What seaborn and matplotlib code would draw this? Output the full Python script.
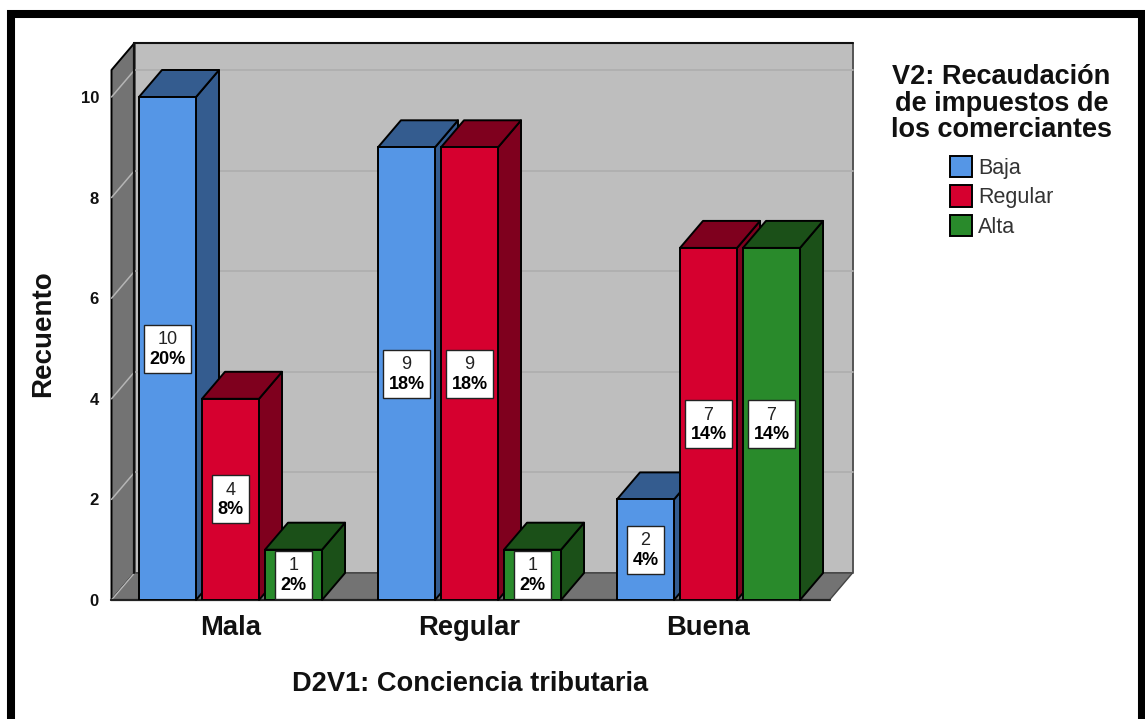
import numpy as np
import pandas as pd
import seaborn as sns
import matplotlib.pyplot as plt
from matplotlib.patches import Polygon, Rectangle

conciencia = ['Mala', 'Regular', 'Buena']
recaudacion = ['Baja', 'Regular', 'Alta']
baja = [10, 9, 2]
regular = [4, 9, 7]
alta = [1, 1, 7]
baja_pct = [20, 18, 4]
regular_pct = [8, 18, 14]
alta_pct = [2, 2, 14]
y_ticks = [0, 2, 4, 6, 8, 10]

front_colors = ['#5596E6', '#D6002F', '#298A2B']
dark_colors = ['#345C8F', '#7F001E', '#1B5018']

W, H = 1145, 719
# plot box in pixels of the picture
LEFT, RIGHT, BOTTOM, TOP = 111.5, 829.5, 600, 70
PX_PER_Y = 50.3
PX_PER_X = 239
DX, DY = 23 / PX_PER_X, 27 / PX_PER_Y

sns.set_theme(style='white')
plt.rcParams['font.family'] = ['Liberation Sans', 'DejaVu Sans']

df = pd.DataFrame({
    'cond': conciencia * 3,
    'grupo': np.repeat(recaudacion, 3),
    'n': baja + regular + alta,
})
pcts = [baja_pct, regular_pct, alta_pct]

fig = plt.figure(figsize=(W / 100, H / 100), dpi=100)
ax = fig.add_axes([LEFT / W, 1 - BOTTOM / H, (RIGHT - LEFT) / W, (BOTTOM - TOP) / H])

sns.barplot(data=df, x='cond', y='n', hue='grupo', order=conciencia, hue_order=recaudacion,
            palette=front_colors, width=0.791, gap=0.095, edgecolor='black', linewidth=1.4,
            saturation=1, ax=ax)

x0, x1 = (LEFT - 230.5) / PX_PER_X, (RIGHT - 230.5) / PX_PER_X
y1 = (BOTTOM - TOP) / PX_PER_Y
ax.set_xlim(x0, x1)
ax.set_ylim(0, y1)
ax.patch.set_alpha(0)
sns.despine(ax=ax, left=True, bottom=True, top=True, right=True)


def poly(pts, color, z, edge='black', lw=1.4):
    ax.add_patch(Polygon(pts, closed=True, facecolor=color, edgecolor=edge, linewidth=lw,
                         clip_on=False, zorder=z, joinstyle='round'))


# back wall, side wall, floor
wall = '#BEBEBE'
side = '#737373'
poly([(x0 + DX, DY), (x1 + DX, DY), (x1 + DX, y1 + DY), (x0 + DX, y1 + DY)], wall, 0.5, edge='#555555')
ax.plot([x0 + DX, x1 + DX], [y1 + DY, y1 + DY], color='#111111', lw=1.5, clip_on=False, zorder=0.8)
poly([(x0, 0), (x0 + DX, DY), (x0 + DX, y1 + DY), (x0, y1)], side, 0.6)
poly([(x0, 0), (x1, 0), (x1 + DX, DY), (x0 + DX, DY)], side, 0.6, edge='#444444', lw=1)
for t in y_ticks[1:]:
    ax.plot([x0 + DX, x1 + DX], [t + DY, t + DY], color='#AFAFAF', lw=1.3, zorder=0.7, clip_on=False)
for t in y_ticks:
    ax.plot([x0, x0 + DX], [t, t + DY], color='#B5B5B5', lw=1.1, zorder=0.7, clip_on=False)
ax.plot([x0 + DX, x0 + DX], [DY, y1 + DY], color='#111111', lw=1.6, zorder=0.75, clip_on=False)
ax.plot([x0, x1], [0, 0], color='#222222', lw=1.6, zorder=0.9, clip_on=False)

# depth faces, each bar hides the side of its left neighbour
renderer = fig.canvas.get_renderer()
bars = []
for h, cont in enumerate(ax.containers):
    for c, bar in enumerate(cont.patches):
        bars.append((bar.get_x(), h, c, bar))
bars.sort(key=lambda b: b[0])
for i, (bx, h, c, bar) in enumerate(bars):
    w = bar.get_width()
    v = bar.get_height()
    z = 3 + i
    bar.set_zorder(z + 0.5)
    poly([(bx + w, 0), (bx + w + DX, DY), (bx + w + DX, v + DY), (bx + w, v)], dark_colors[h], z)
    poly([(bx, v), (bx + w, v), (bx + w + DX, v + DY), (bx + DX, v + DY)], dark_colors[h], z)
    cx = bx + w / 2
    cy = v / 2
    ax.annotate(f'{int(v)}', (cx, cy), xytext=(0, 6.4), textcoords='offset points', ha='center', va='center',
                fontsize=13, color='#222222', zorder=31)
    pct_text = ax.annotate(f'{pcts[h][c]}%', (cx, cy), xytext=(0, -7.6), textcoords='offset points',
                           ha='center', va='center', fontsize=13, fontweight='bold', color='black', zorder=31)
    # white label box fitted round the wider line
    box_w = (pct_text.get_window_extent(renderer).width + 10) / PX_PER_X
    box_h = 48 / PX_PER_Y
    ax.add_patch(Rectangle((cx - box_w / 2, cy - box_h / 2), box_w, box_h, facecolor='white',
                           edgecolor='#222222', linewidth=1, zorder=30))

ax.set_yticks(y_ticks)
ax.set_yticklabels(y_ticks, fontsize=12, fontweight='bold', color='#111111')
ax.tick_params(axis='y', length=0, pad=9)
ax.tick_params(axis='x', length=0, pad=10.7)
ax.set_xticks(range(3))
ax.set_xticklabels(conciencia, fontsize=19.7, fontweight='bold', color='#111111')
ax.set_xlabel('D2V1: Conciencia tributaria', fontsize=19.6, fontweight='bold', color='#111111', labelpad=21.5)
ax.set_ylabel('Recuento', fontsize=20, fontweight='bold', color='#111111', labelpad=18, y=0.503)

sns.move_legend(ax, 'upper center', bbox_to_anchor=(1001.5 / W, 1 - 53 / H), bbox_transform=fig.transFigure,
                title='V2: Recaudación\nde impuestos de\nlos comerciantes', frameon=False, fontsize=15.5,
                title_fontproperties={'size': 19.5, 'weight': 'bold'}, handlelength=1.02, handleheight=1.15,
                handletextpad=0.28, labelspacing=0.3, borderpad=0, alignment='center')
leg = ax.get_legend()
leg._legend_box.sep += 4.3
leg.get_title().set_linespacing(1.04)
leg.get_title().set_color('#111111')
leg.get_title().set_ha('center')
for t in leg.get_texts():
    t.set_color('#333333')

# thick frame of the screenshot, open at the bottom
fig.add_artist(Rectangle((11 / W, -0.05), (W + 40) / W - 11 / W - 43 / W, 1.05 - 14 / H, transform=fig.transFigure,
                         fill=False, edgecolor='black', linewidth=5.8, zorder=50))

fig.savefig('out.png', dpi=100)
